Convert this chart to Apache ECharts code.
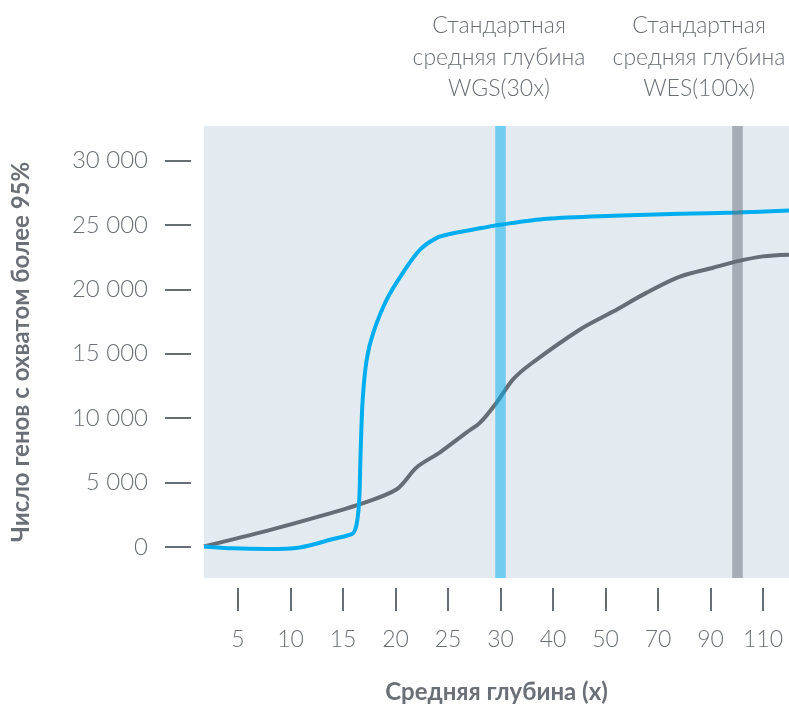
<!DOCTYPE html>
<html>
<head>
<meta charset="utf-8">
<script src="https://cdn.jsdelivr.net/npm/echarts@6.0.0/dist/echarts.min.js"></script>
<style>
html,body{margin:0;padding:0;background:#fff;}
#chart{width:789px;height:709px;}
</style>
</head>
<body>
<div id="chart"></div>
<script>
// x positions are ordinal slots of the depth axis (1 = 5x ... 11 = 110x)
const xTickPositions = [1, 2, 3, 4, 5, 6, 7, 8, 9, 10, 11];
const xTickLabels = ['5', '10', '15', '20', '25', '30', '40', '50', '70', '90', '110'];
const yTickValues = [0, 5000, 10000, 15000, 20000, 25000, 30000];
const yTickLabels = ['0', '5 000', '10 000', '15 000', '20 000', '25 000', '30 000'];

// WGS curve (blue): [x slot, genes]
const wgsCurve = [
  [0.352, 30], [0.9, -120], [1.547, -180], [2.181, -50], [2.81, 600], [3.166, 985],
  [3.229, 1295], [3.276, 2150], [3.31, 3700], [3.337, 7570], [3.375, 11450],
  [3.451, 14550], [3.577, 16640], [3.832, 19200], [4.143, 21300], [4.467, 23080],
  [4.785, 24000], [5.038, 24300], [5.667, 24784], [5.99, 25017], [6.88, 25482],
  [8.143, 25715], [9.419, 25870], [10.505, 25970], [11.495, 26125]
];
// WES curve (gray)
const wesCurve = [
  [0.352, 30], [1.547, 1240], [2.499, 2300], [3.324, 3310], [4.023, 4470],
  [4.404, 6180], [4.848, 7340], [5.356, 8890], [5.61, 9640], [5.928, 11220],
  [6.238, 13000], [6.562, 14160], [7.514, 16880], [8.143, 18270], [8.785, 19745],
  [9.419, 20985], [10.048, 21680], [10.499, 22170], [11.0, 22560], [11.495, 22690]
];
// Standard depth markers (x slot)
const wgsStandard = 6;     // 30x
const wesStandard = 10.5;  // 100x
const wgsLabel = 'Стандартная\nсредняя глубина\nWGS(30x)';
const wesLabel = 'Стандартная\nсредняя глубина\nWES(100x)';

const BLUE = '#00aeef';
const GRAY = '#676d75';
const TEXT = '#6b7077';
const FONT = 'Lato';

const chart = echarts.init(document.getElementById('chart'), null, {renderer: 'canvas'});
chart.setOption({
  animation: false,
  backgroundColor: '#ffffff',
  textStyle: {fontFamily: FONT},
  grid: {
    left: 204, right: 0, top: 126, bottom: 130,
    show: true, backgroundColor: '#e3ebf1', borderWidth: 0,
    containLabel: false
  },
  xAxis: {
    type: 'value',
    min: 0.352, max: 11.495,
    offset: 10,
    axisLine: {show: false, onZero: false},
    splitLine: {show: false},
    axisTick: {show: true, length: 23, lineStyle: {color: GRAY, width: 2}, customValues: xTickPositions},
    axisLabel: {
      customValues: xTickPositions,
      margin: 40,
      color: TEXT, fontSize: 23, fontWeight: 300, fontFamily: FONT,
      formatter: v => xTickLabels[xTickPositions.indexOf(v)]
    },
    name: 'Средняя глубина (x)',
    nameLocation: 'middle',
    nameGap: 92,
    nameTextStyle: {color: TEXT, fontSize: 24, fontWeight: 'bold', fontFamily: FONT}
  },
  yAxis: {
    type: 'value',
    min: -2426, max: 32690,
    offset: 13,
    axisLine: {show: false, onZero: false},
    splitLine: {show: false},
    axisTick: {show: true, length: 26, lineStyle: {color: GRAY, width: 2}, customValues: yTickValues},
    axisLabel: {
      customValues: yTickValues,
      margin: 43,
      color: TEXT, fontSize: 24, fontWeight: 300, fontFamily: FONT,
      formatter: v => yTickLabels[yTickValues.indexOf(v)]
    },
    name: 'Число генов с охватом более 95%',
    nameLocation: 'middle',
    nameGap: 158,
    nameTextStyle: {color: TEXT, fontSize: 24, fontWeight: 'bold', fontFamily: FONT}
  },
  series: [
    {
      type: 'line', name: 'WGS', data: wgsCurve, smooth: 0.3,
      showSymbol: false, symbol: 'none', z: 3,
      lineStyle: {color: BLUE, width: 4}
    },
    {
      type: 'line', name: 'WES', data: wesCurve, smooth: 0.3,
      showSymbol: false, symbol: 'none', z: 2,
      lineStyle: {color: GRAY, width: 4}
    },
    {
      type: 'line', data: [], z: 5,
      markLine: {
        silent: true, symbol: 'none', label: {show: false},
        data: [
          {xAxis: wgsStandard, lineStyle: {color: BLUE, width: 10.5, opacity: 0.5, type: 'solid'}},
          {xAxis: wesStandard, lineStyle: {color: GRAY, width: 10.5, opacity: 0.5, type: 'solid'}}
        ]
      }
    }
  ],
  graphic: [
    {type: 'text', x: 499, y: 10, style: {text: wgsLabel, align: 'center', verticalAlign: 'top', lineHeight: 31.5, fontSize: 23, fontWeight: 300, fill: TEXT, fontFamily: FONT}},
    {type: 'text', x: 699, y: 10, style: {text: wesLabel, align: 'center', verticalAlign: 'top', lineHeight: 31.5, fontSize: 23, fontWeight: 300, fill: TEXT, fontFamily: FONT}}
  ]
});
</script>
</body>
</html>
